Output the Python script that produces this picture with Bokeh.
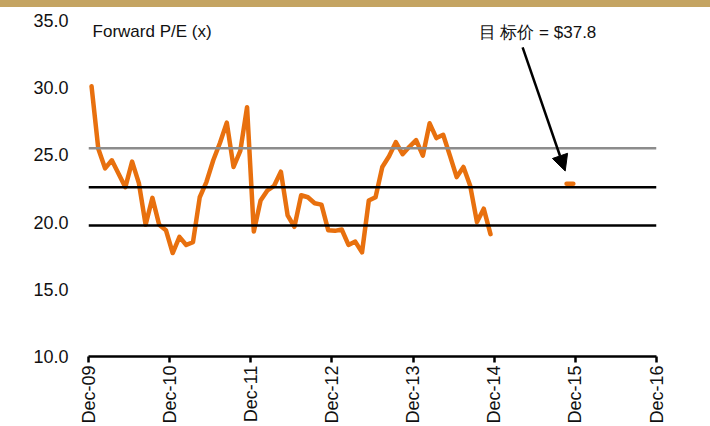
import numpy as np
from bokeh.plotting import figure
from bokeh.models import Range1d, FixedTicker, Span, Label, Arrow, NormalHead, Div
from bokeh.layouts import column
from bokeh.embed import file_html
from bokeh.resources import INLINE

# Forward P/E, monthly Dec-09 .. Nov-14
pe = [30.1, 25.45, 24.0, 24.6, 23.6, 22.6, 24.5, 22.9, 19.8, 21.8, 19.8, 19.4,
      17.7, 18.9, 18.3, 18.5, 21.85, 23.0, 24.6, 25.9, 27.4, 24.1, 25.3, 28.55,
      19.3, 21.6, 22.35, 22.7, 23.75, 20.5, 19.65, 22.0, 21.85, 21.4, 21.3, 19.4,
      19.35, 19.45, 18.3, 18.55, 17.75, 21.6, 21.85, 24.1, 24.9, 25.95, 25.05, 25.6,
      26.1, 24.95, 27.35, 26.25, 26.5, 24.95, 23.35, 24.1, 22.7, 20.0, 21.0, 19.1]
target_months = [71, 72]          # Nov-15, Dec-15
target_pe = [22.85, 22.85]
ref_levels = [25.5, 22.6, 19.75]
ref_colors = ["#8C8C8C", "#000000", "#000000"]
tick_months = [0, 12, 24, 36, 48, 60, 72, 84]
tick_labels = ["Dec-09", "Dec-10", "Dec-11", "Dec-12", "Dec-13", "Dec-14", "Dec-15", "Dec-16"]
y_ticks = [10, 15, 20, 25, 30, 35]
y_labels = ["10.0", "15.0", "20.0", "25.0", "30.0", "35.0"]

title_text = "Forward P/E (x)"
target_text = "目 标价 = $37.8"
arrow_start = (64.2, 33.0)
arrow_end = (70.5, 23.8)

FONT = "Liberation Sans"
ORANGE = "#E8700E"
GOLD = "#C4A462"
BAND = 7

band = Div(text="", width=710, height=BAND, margin=0,
           styles={"background-color": GOLD, "width": "710px", "height": f"{BAND}px"})

p = figure(width=710, height=426 - BAND, output_backend="svg", toolbar_location=None,
           x_range=Range1d(0, 84), y_range=Range1d(10, 35),
           min_border_left=88, min_border_right=54, min_border_top=20 - BAND, min_border_bottom=70)
p.margin = 0
p.outline_line_color = None
p.xgrid.visible = False
p.ygrid.visible = False
p.background_fill_color = "white"
p.border_fill_color = "white"

# x axis
p.xaxis.ticker = FixedTicker(ticks=tick_months)
p.xaxis.major_label_overrides = {m: l for m, l in zip(tick_months, tick_labels)}
p.xaxis.major_label_orientation = np.pi / 2
p.xaxis.minor_tick_line_color = None
p.xaxis.axis_line_width = 2.5
p.xaxis.axis_line_color = "black"
p.xaxis.major_tick_line_width = 2.5
p.xaxis.major_tick_line_color = "black"
p.xaxis.major_tick_in = 0
p.xaxis.major_tick_out = 6
p.xaxis.major_label_standoff = 3
p.xaxis.major_label_text_font = FONT
p.xaxis.major_label_text_font_size = "18px"
p.xaxis.major_label_text_color = "#111111"

# y axis
p.yaxis.ticker = FixedTicker(ticks=y_ticks)
p.yaxis.major_label_overrides = {t: l for t, l in zip(y_ticks, y_labels)}
p.yaxis.axis_line_color = None
p.yaxis.major_tick_line_color = None
p.yaxis.minor_tick_line_color = None
p.yaxis.major_tick_out = 0
p.yaxis.major_tick_in = 0
p.yaxis.major_label_standoff = 20
p.yaxis.major_label_text_font = FONT
p.yaxis.major_label_text_font_size = "18px"
p.yaxis.major_label_text_color = "#111111"

for lvl, col in zip(ref_levels, ref_colors):
    p.add_layout(Span(location=lvl, dimension="width", line_color=col, line_width=2.5))

x = np.arange(len(pe)) + 0.45
p.line(x, pe, line_color=ORANGE, line_width=4.5, line_join="round", line_cap="round")
p.line(np.array(target_months) - 0.3, target_pe, line_color=ORANGE, line_width=4.5, line_cap="round")

p.add_layout(Label(x=0.6, y=34.15, text=title_text, text_font=FONT, text_font_size="17px",
                   text_baseline="middle", text_align="left", text_color="#111111"))
p.add_layout(Label(x=66.4, y=34.1, text=target_text, text_font=FONT, text_font_size="17px",
                   text_baseline="middle", text_align="center", text_color="#111111"))
p.add_layout(Arrow(x_start=arrow_start[0], y_start=arrow_start[1], x_end=arrow_end[0], y_end=arrow_end[1],
                   line_width=2.5, line_color="black",
                   end=NormalHead(size=16, fill_color="black", line_color="black")))

layout = column(band, p, spacing=0, margin=0)
open("out.html", "w").write(file_html(layout, INLINE))
